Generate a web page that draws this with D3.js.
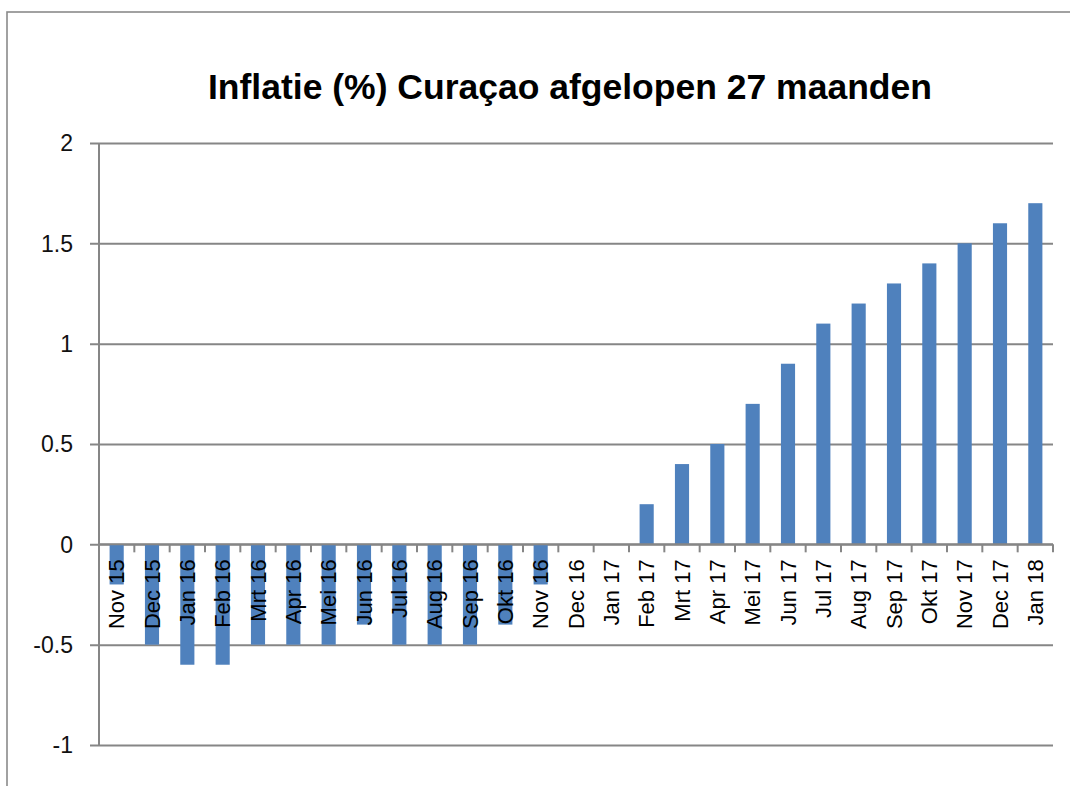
<!DOCTYPE html>
<html>
<head>
<meta charset="utf-8">
<script src="https://cdn.jsdelivr.net/npm/d3@7"></script>
<style>
  html, body { margin: 0; padding: 0; background: #fff; }
  svg { display: block; }
</style>
</head>
<body>
<svg id="chart" width="1070" height="786"></svg>
<script>
const categories = ["Nov 15","Dec 15","Jan 16","Feb 16","Mrt 16","Apr 16","Mei 16","Jun 16","Jul 16","Aug 16","Sep 16","Okt 16","Nov 16","Dec 16","Jan 17","Feb 17","Mrt 17","Apr 17","Mei 17","Jun 17","Jul 17","Aug 17","Sep 17","Okt 17","Nov 17","Dec 17","Jan 18"];
const values = [-0.2,-0.5,-0.6,-0.6,-0.5,-0.5,-0.5,-0.4,-0.5,-0.5,-0.5,-0.4,-0.2,0,0,0.2,0.4,0.5,0.7,0.9,1.1,1.2,1.3,1.4,1.5,1.6,1.7];
const yTicks = [-1,-0.5,0,0.5,1,1.5,2];
const yTickLabels = ["-1","-0.5","0","0.5","1","1.5","2"];
const title = "Inflatie (%) Curaçao afgelopen 27 maanden";

const svg = d3.select("#chart");
const W = 1070, H = 786;
const m = {left: 99, right: 1053, top: 143, bottom: 745};
const FONT = "'Liberation Sans', Arial, sans-serif";
const GRID = "#868686";

// outer frame
svg.append("rect").attr("x", 7).attr("y", 12).attr("width", W + 20).attr("height", H + 20)
  .attr("fill", "none").attr("stroke", "#8a8a8a").attr("stroke-width", 1.6);

const x = d3.scaleBand().domain(categories).range([m.left, m.right]).paddingInner(0.6).paddingOuter(0.3);
const y = d3.scaleLinear().domain([-1, 2]).range([m.bottom, m.top]);

// gridlines + y tick stubs
const yAxis = d3.axisLeft(y).tickValues(yTicks).tickSize(m.right - m.left + 9)
  .tickFormat((d, i) => yTickLabels[i]);
const gy = svg.append("g").attr("transform", `translate(${m.right},0)`).call(yAxis);
gy.select(".domain").remove();
gy.selectAll(".tick line").attr("stroke", GRID).attr("stroke-width", 2);
gy.selectAll(".tick text").attr("font-family", FONT).attr("font-size", 23).attr("fill", "#111")
  .attr("x", -(m.right - m.left) - 26).attr("dy", "0.34em");

// y axis line
svg.append("line").attr("x1", m.left).attr("x2", m.left).attr("y1", m.top).attr("y2", m.bottom)
  .attr("stroke", GRID).attr("stroke-width", 2);

// bars
svg.append("g").selectAll("rect").data(values).join("rect")
  .attr("x", (d, i) => x(categories[i]))
  .attr("width", x.bandwidth())
  .attr("y", d => y(Math.max(0, d)))
  .attr("height", d => Math.abs(y(d) - y(0)))
  .attr("fill", "#4F81BD");

// zero axis line with boundary ticks
const y0 = y(0);
svg.append("line").attr("x1", m.left).attr("x2", m.right).attr("y1", y0).attr("y2", y0)
  .attr("stroke", GRID).attr("stroke-width", 2);
const step = x.step();
const bounds = d3.range(categories.length + 1).map(i => i === 0 ? m.left : x(categories[i - 1]) + x.bandwidth() + step * x.paddingInner() / 2);
svg.append("g").selectAll("line").data(bounds).join("line")
  .attr("x1", d => d).attr("x2", d => d).attr("y1", y0).attr("y2", y0 + 8)
  .attr("stroke", GRID).attr("stroke-width", 2);

// category labels (rotated)
svg.append("g").selectAll("text").data(categories).join("text")
  .attr("transform", d => `translate(${x(d) + x.bandwidth() / 2 + 7.5},${y0 + 15}) rotate(-90)`)
  .attr("text-anchor", "end")
  .attr("font-family", FONT).attr("font-size", 22).attr("fill", "#000")
  .text(d => d);

// title
svg.append("text").attr("x", 570).attr("y", 99).attr("text-anchor", "middle")
  .attr("font-family", FONT).attr("font-weight", "bold").attr("font-size", 35.5).attr("fill", "#000")
  .text(title);
</script>
</body>
</html>
